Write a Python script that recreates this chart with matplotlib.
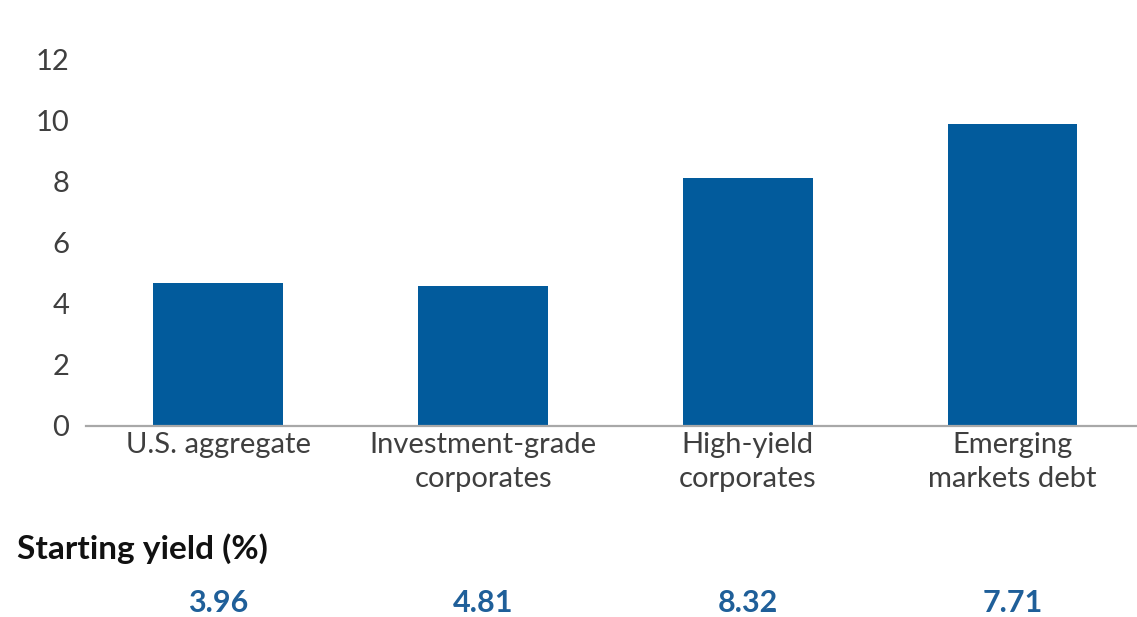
import matplotlib

matplotlib.use("Agg")
import matplotlib.pyplot as plt

categories = ["U.S. aggregate", "Investment-grade\ncorporates", "High-yield\ncorporates", "Emerging\nmarkets debt"]
returns = [4.68, 4.58, 8.12, 9.9]
starting_yields = ["3.96", "4.81", "8.32", "7.71"]
y_ticks = [0, 2, 4, 6, 8, 10, 12]

BAR_COLOR = "#025b9c"
VALUE_COLOR = "#1f5f99"
TEXT_COLOR = "#3f3f3f"

plt.rcParams["font.family"] = ["Lato", "DejaVu Sans"]

fig = plt.figure(figsize=(11.37, 6.17), dpi=100)
ax = fig.add_axes([0.0756, 0.3096, 0.9244, 0.5932])

x = list(range(len(categories)))
ax.bar(x, returns, width=0.49, color=BAR_COLOR, zorder=2)

ax.set_xlim(-0.5, 3.47)
ax.set_ylim(0, 12)
ax.set_yticks(y_ticks)
ax.set_yticklabels([str(t) for t in y_ticks], fontsize=21, color=TEXT_COLOR)
ax.set_xticks(x)
ax.set_xticklabels(categories, fontsize=21, color=TEXT_COLOR, linespacing=1.4, va="top")
ax.tick_params(axis="both", length=0)
ax.tick_params(axis="x", pad=4)
ax.tick_params(axis="y", pad=12)

for side in ["top", "right", "left"]:
    ax.spines[side].set_visible(False)
ax.spines["bottom"].set_color("#a8a8a8")
ax.spines["bottom"].set_linewidth(1.6)

fig.text(17 / 1137, 1 - 549 / 617, "Starting yield (%)", fontsize=24, fontweight="bold",
         color="#111111", ha="left", va="center")
for xi, val in zip(x, starting_yields):
    xf = ax.transData.transform((xi, 0))[0] / fig.bbox.width
    fig.text(xf, 1 - 603 / 617, val, fontsize=22, fontweight="bold", color=VALUE_COLOR,
             ha="center", va="center")

fig.savefig("out.png", dpi=100)
